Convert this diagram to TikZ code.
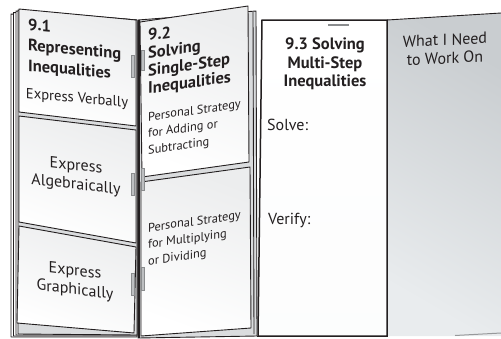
\documentclass[tikz,border=0pt]{standalone}
\usepackage{fontspec}
\setmainfont{PT Sans}
\definecolor{ink}{HTML}{231F20}
\definecolor{paperend}{HTML}{ECEDEE}
\definecolor{gapgray}{HTML}{DADCDE}
\definecolor{slotgray}{HTML}{BDBFC1}
\definecolor{slotedge}{HTML}{8A8C8E}
\definecolor{panellight}{HTML}{E9ECEE}
\definecolor{paneldark}{HTML}{C9CDD0}
\begin{document}
% units are points; the page runs from y=0 at the top down to y=-338
\begin{tikzpicture}[x=1pt,y=1pt,
  edge/.style={draw=ink,line width=0.9pt,line join=round},
  backpage/.style={edge,fill=white},
  backsheet/.style={edge,fill=gapgray},
  flap/.style={edge,top color=white,bottom color=paperend,shading angle=160},
  slot/.style={fill=slotgray,draw=slotedge,line width=0.4pt},
  heading/.style={inner sep=0pt,text=ink,font=\fontsize{16.5}{20.5}\selectfont\bfseries},
  midheading/.style={heading,font=\fontsize{16.5}{17.6}\selectfont\bfseries},
  endheading/.style={heading,font=\fontsize{16.5}{18.5}\selectfont\bfseries},
  sidebody/.style={inner sep=0pt,text=ink,font=\fontsize{16}{19}\selectfont},
  verbalbody/.style={inner sep=0pt,text=ink,font=\fontsize{14.6}{17}\selectfont},
  body/.style={inner sep=0pt,text=ink,font=\fontsize{12.4}{16.5}\selectfont},
  bigbody/.style={inner sep=0pt,text=ink,font=\fontsize{16}{18.5}\selectfont},
]
\useasboundingbox (0,-338) rectangle (501,0);

% stacked pages of the left section
\draw[backpage] (11,-14) -- (137,-22) -- (137,-337) -- (11,-337) -- cycle;
\draw[backpage] (13.5,-12.5) -- (137,-21) -- (137,-336) -- (13.5,-336) -- cycle;
\draw[backpage] (16,-11) -- (137,-20) -- (137,-335) -- (16,-335) -- cycle;

% sheet behind the left flaps
\draw[backsheet] (18,-10) -- (137,-20) -- (137,-335) -- (18,-334) -- cycle;

% sheet behind the middle flaps
\draw[backsheet] (138,-20) -- (256,-11) -- (257,-336) -- (138,-338) -- cycle;
\draw[edge] (253,-12) -- (254,-334);

% left flaps
\path[flap] (19,-9) -- (136,-20) -- (136,-126) -- (19,-112) -- cycle;
\path[flap] (19,-116) -- (136,-130) -- (136,-243) -- (19,-222) -- cycle;
\path[flap] (19,-226) -- (136,-247) -- (134,-333) -- (17,-323) -- cycle;

% fold between left and middle sections
\draw[ink,line width=2.2pt] (138.6,-20) -- (138.6,-338);

% middle flaps
\path[flap] (140,-22) -- (248,-6) -- (249,-162) -- (142,-177) -- cycle;
\path[flap] (141,-182) -- (250,-167) -- (251,-328) -- (141,-336) -- cycle;

% right-hand panel
\path[top color=panellight,bottom color=paneldark,shading angle=150]
  (387,-20) -- (501,-13) -- (501,-336) -- (387,-336) -- cycle;
\draw[edge] (387,-20) -- (501,-13);
\draw[paneldark!70!ink,line width=1pt] (455,-335.5) -- (501,-333);

% centre panel
\path[draw=ink,line width=1.5pt,top color=white,bottom color=white!95!paneldark]
  (262,-20) -- (387,-20) -- (387,-336) -- (258,-336) -- cycle;
\draw[slotedge,line width=2pt] (328,-25) -- (349,-25);

% slots
\path[slot] (131,-55) rectangle (134,-77);
\path[slot] (131,-173) rectangle (134,-195);
\path[slot] (131,-273) rectangle (134,-295);
\path[slot] (141,-50) rectangle (144,-70);
\path[slot] (141,-168) rectangle (144,-190);
\path[slot] (141,-267) rectangle (144,-290);

% labels, sheared to follow the slant of each flap
\node[heading,anchor=north west,align=left,yslant=-0.09] (t91) at (28,-18)
  {9.1\\Representing\\Inequalities};
\node[verbalbody,yslant=-0.09] (verbal) at (77,-99) {Express Verbally};
\node[sidebody,align=center,yslant=-0.12] (alg) at (76,-176) {Express\\Algebraically};
\node[sidebody,align=center,yslant=-0.12] (graph) at (75,-281) {Express\\Graphically};

\node[midheading,anchor=north west,align=left,yslant=0.14] (t92) at (148,-29)
  {9.2\\Solving\\Single-Step\\Inequalities};
\node[body,anchor=north west,align=left,yslant=0.14] (add) at (148,-112)
  {Personal Strategy\\for Adding or\\Subtracting};
\node[body,anchor=north west,align=left,yslant=0.14] (mult) at (148,-223)
  {Personal Strategy\\for Multiplying\\or Dividing};

\node[endheading,anchor=north,align=center] (t93) at (325,-38)
  {9.3 Solving\\Multi-Step\\Inequalities};
\node[bigbody,anchor=north west] (solve) at (267,-119) {Solve:};
\node[bigbody,anchor=north west] (verify) at (268,-213) {Verify:};

\node[bigbody,align=center,yslant=0.05] (need) at (445,-49) {What I Need\\to Work On};
\end{tikzpicture}
\end{document}
